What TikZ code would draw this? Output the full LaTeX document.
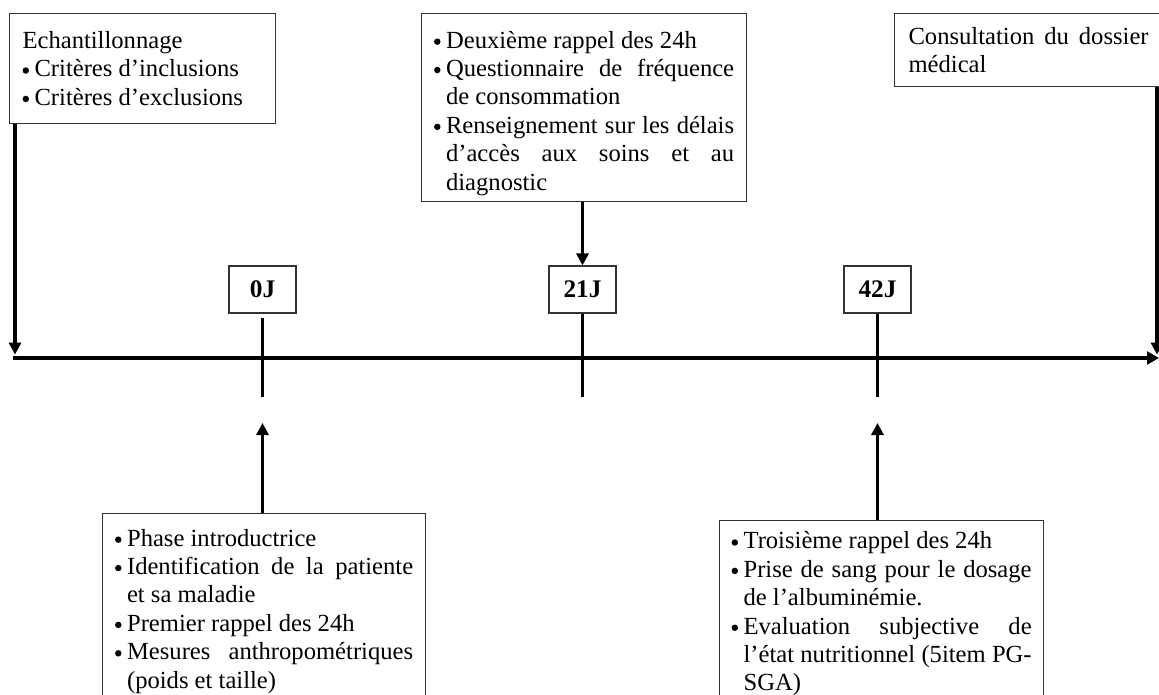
\documentclass[tikz,border=0pt]{standalone}
\usepackage{fontspec}
\setmainfont{Liberation Serif}
\usetikzlibrary{arrows.meta}
\hyphenpenalty=10000
\newcommand{\puce}{\par\hangindent=0.3cm\hangafter=1\noindent\makebox[0.3cm][l]{\tikz[baseline=0pt]\fill (2.5pt,4.6pt) circle (2.3pt);}}
\tikzset{
  etape/.style={draw=black!80, line width=0.8pt, anchor=north west, align=justify, inner ysep=0pt,
    font=\fontsize{17.5}{20.2}\selectfont},
  jour/.style={draw=black!80, line width=0.8pt, minimum width=1.675cm, minimum height=1.175cm,
    font=\bfseries\fontsize{18}{20.5}\selectfont},
  fleche/.style={line width=2.8pt, -{Triangle[length=0.3cm,width=0.3cm]}},
  trait/.style={line width=2.8pt}
}
\begin{document}
\begin{tikzpicture}[x=0.025cm,y=-0.025cm]
                \clip (0,0) rectangle (1159,695);
                \node[etape, text width=6cm, inner xsep=0.325cm, minimum height=2.75cm] (echant) at (9,13)
                  {\noindent Echantillonnage\puce Critères d’inclusions\puce Critères d’exclusions\par\vspace{0.3cm}};
                \node[etape, text width=7.5cm, inner xsep=0.3125cm, minimum height=4.7cm] (suivi) at (421,13)
                  {\puce Deuxième rappel des 24h\puce Questionnaire de fréquence\linebreak de consommation\puce Renseignement sur les délais\linebreak d’accès aux soins et au\linebreak diagnostic\par\vspace{0.2cm}};
                \node[etape, text width=6cm, inner xsep=0.35cm, minimum height=1.825cm] (dossier) at (894,13)
                  {\noindent Consultation du dossier\linebreak médical\par};
                \node[etape, text width=7.45cm, inner xsep=0.3125cm, minimum height=4.6cm] (inclusion) at (102,513)
                  {\puce Phase introductrice\puce Identification de la patiente\linebreak et sa maladie\puce Premier rappel des 24h\puce Mesures anthropométriques\linebreak (poids et taille)\par};
                \node[etape, text width=7.5cm, inner xsep=0.3cm, minimum height=4.35cm] (bilan) at (719,520)
                  {\puce Troisième rappel des 24h\puce Prise de sang pour le dosage\linebreak de l’albuminémie.\puce Evaluation subjective de\linebreak l’état nutritionnel (5item PG-\linebreak SGA)\par};
                % jours
                \node[jour] (j0) at (262.5,289.5) {0J};
                \node[jour] (j21) at (582.5,289.5) {21J};
                \node[jour] (j42) at (877.5,289.5) {42J};
                \coordinate (debut) at (15,358);
                \coordinate (fin) at (1159,358);
                \coordinate (coin) at (1157,358);
                \coordinate (bas) at (0,397);
                \coordinate (pointe) at (0,423);
                % axe du temps
                \draw[line width=3.4pt, -{Triangle[length=0.3cm,width=0.32cm]}] ([xshift=-1.2pt]debut) -- (fin);
                \draw[trait] ([yshift=-3pt]j0.south) -- (j0.south |- bas) (j21.south) -- (j21.south |- bas) (j42.south) -- (j42.south |- bas);
                \draw[fleche] (echant.south -| debut) -- ([yshift=2.4pt]debut);
                \draw[fleche] (dossier.south -| coin) -- ([yshift=2.4pt]coin);
                \draw[fleche] (suivi.south -| j21) -- (j21.north);
                \draw[fleche] (inclusion.north -| j0) -- (j0 |- pointe);
                \draw[fleche] (bilan.north -| j42) -- (j42 |- pointe);
            \end{tikzpicture}
\end{document}
